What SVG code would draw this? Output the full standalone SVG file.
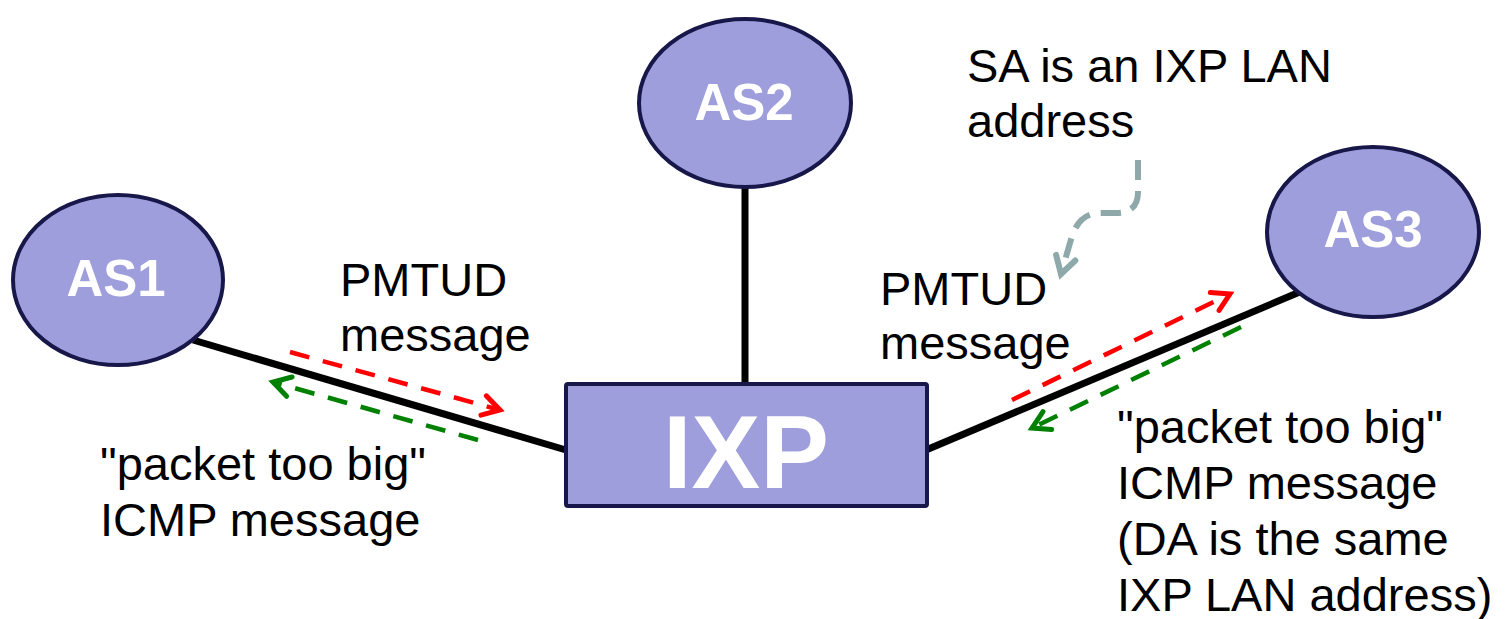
<svg xmlns="http://www.w3.org/2000/svg" width="1505" height="619" viewBox="0 0 1505 619">
<style>
.node{fill:#9E9EDD;stroke:#17174A;stroke-width:4}
.lbl{font-family:"Liberation Sans",Arial,sans-serif;font-weight:bold;fill:#fff;text-anchor:middle}
.txt{font-family:"Liberation Sans",Arial,sans-serif;font-size:47px;fill:#000}
.link{stroke:#000;stroke-width:7;fill:none}
.red{stroke:#FF0000;stroke-width:4.5;stroke-dasharray:20 14;fill:none;marker-end:url(#ar)}
.green{stroke:#008000;stroke-width:4.5;stroke-dasharray:20 14;fill:none;marker-end:url(#ag)}
.gray{stroke:#8FA9AA;stroke-width:6;stroke-dasharray:20 11;fill:none;marker-end:url(#ay)}
</style>
<defs>
<marker id="ar" markerUnits="userSpaceOnUse" orient="auto" markerWidth="30" markerHeight="30" viewBox="-20 -15 30 30" refX="0" refY="0" overflow="visible"><path d="M-17,-10 L0,0 L-17,10" fill="none" stroke="#FF0000" stroke-width="5" stroke-linecap="round"/></marker>
<marker id="ag" markerUnits="userSpaceOnUse" orient="auto" markerWidth="30" markerHeight="30" viewBox="-20 -15 30 30" refX="0" refY="0" overflow="visible"><path d="M-17,-10 L0,0 L-17,10" fill="none" stroke="#008000" stroke-width="5" stroke-linecap="round"/></marker>
<marker id="ay" markerUnits="userSpaceOnUse" orient="auto" markerWidth="30" markerHeight="30" viewBox="-20 -15 30 30" refX="0" refY="0" overflow="visible"><path d="M-17,-10 L0,0 L-17,10" fill="none" stroke="#8FA9AA" stroke-width="6" stroke-linecap="round"/></marker>
</defs>
<g id="connectors">
<line class="link" x1="193" y1="340" x2="566" y2="450"/>
<line class="link" x1="745" y1="186" x2="745" y2="385"/>
<line class="link" x1="926" y1="450" x2="1302" y2="291"/>
<line class="red" x1="290" y1="352" x2="500" y2="410"/>
<line class="green" x1="478" y1="440" x2="273" y2="382"/>
<line class="red" x1="1012" y1="400" x2="1230" y2="294"/>
<line class="green" x1="1241" y1="327" x2="1032" y2="428"/>
<path class="gray" d="M1138,160 L1138,192 Q1138,213 1116,213 L1100,213 Q1080,213 1072,236 L1061,274"/>
</g>
<g id="AS1"><ellipse class="node" cx="118" cy="280" rx="105" ry="85"/><text class="lbl" x="116" y="296" font-size="51">AS1</text></g>
<g id="AS2"><ellipse class="node" cx="745" cy="103" rx="106" ry="84"/><text class="lbl" x="744" y="120" font-size="51">AS2</text></g>
<g id="AS3"><ellipse class="node" cx="1373" cy="232" rx="106" ry="85"/><text class="lbl" x="1373" y="247" font-size="51">AS3</text></g>
<g id="IXP"><rect class="node" x="566" y="384" width="361" height="122" rx="2"/><text class="lbl" x="746" y="488" font-size="103">IXP</text></g>
<g id="labels">
<text class="txt" x="340" y="296">PMTUD</text>
<text class="txt" x="340" y="351">message</text>
<text class="txt" x="880" y="305">PMTUD</text>
<text class="txt" x="880" y="359">message</text>
<text class="txt" x="967" y="82">SA is an IXP LAN</text>
<text class="txt" x="967" y="137">address</text>
<text class="txt" x="100" y="480">"packet too big"</text>
<text class="txt" x="100" y="536">ICMP message</text>
<text class="txt" x="1117" y="443">"packet too big"</text>
<text class="txt" x="1117" y="499">ICMP message</text>
<text class="txt" x="1117" y="555">(DA is the same</text>
<text class="txt" x="1117" y="611">IXP LAN address)</text>
</g>
</svg>
